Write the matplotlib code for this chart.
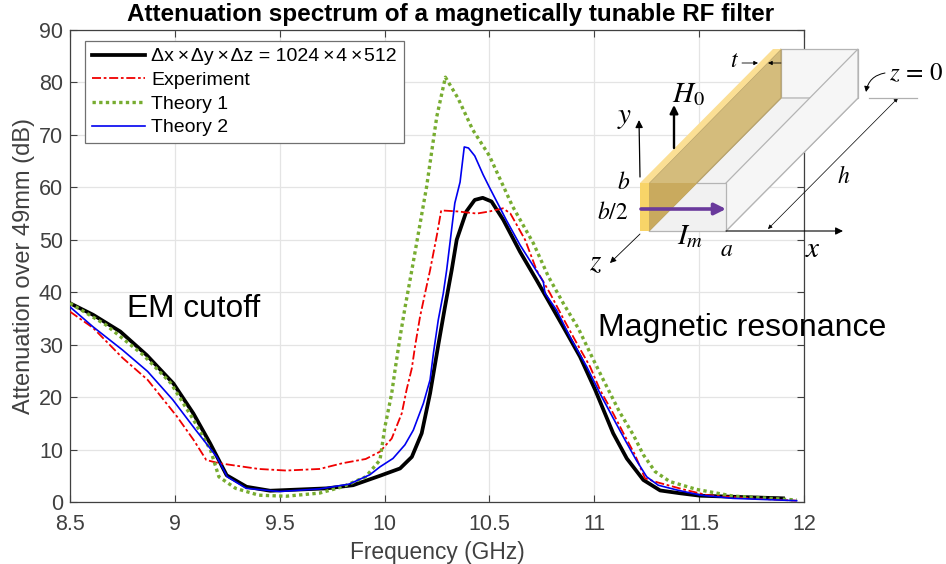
#!/usr/bin/env python3
"""Attenuation spectrum of a magnetically tunable RF filter, with waveguide sketch."""
import matplotlib as mpl
mpl.use("Agg")
import matplotlib.pyplot as plt
from matplotlib.patches import Polygon, FancyArrowPatch

mpl.rcParams.update({
    "font.family": ["Liberation Sans", "DejaVu Sans"],
    "mathtext.fontset": "stix",
    "axes.linewidth": 0.9, "axes.edgecolor": "#404040",
    "xtick.direction": "in", "ytick.direction": "in",
    "xtick.top": True, "ytick.right": True,
    "xtick.major.size": 5, "ytick.major.size": 5,
    "xtick.color": "#404040", "ytick.color": "#404040",
})

# values
sim_f = [8.5, 8.61, 8.74, 8.866, 8.993, 9.088, 9.168, 9.247, 9.342, 9.454, 9.724, 9.85, 9.978,
         10.074, 10.13, 10.177, 10.217, 10.256, 10.288, 10.32, 10.344, 10.39, 10.43, 10.468, 10.51,
         10.566, 10.646, 10.725, 10.765, 10.852, 10.932, 11.004, 11.09, 11.155, 11.234, 11.314,
         11.41, 11.504, 11.66, 11.9]
sim_a = [37.9, 35.7, 32.5, 28, 22.6, 16.9, 11.2, 5.1, 2.9, 2.15, 2.6, 3.2, 5,
         6.4, 8.6, 13.1, 20.7, 29.9, 37.2, 44.2, 50, 55.4, 57.6, 58, 57.3,
         53.8, 47.7, 42.3, 39.5, 33.4, 27.7, 21.4, 13.1, 8.3, 4.2, 2.2,
         1.66, 1.2, 1, 0.7]
exp_f = [8.5, 8.61, 8.75, 8.87, 9.01, 9.09, 9.15, 9.21, 9.4, 9.53, 9.69, 9.8, 9.91, 9.978, 10.034,
         10.082, 10.105, 10.13, 10.145, 10.169, 10.193, 10.217, 10.25, 10.27, 10.35, 10.44, 10.5, 10.565,
         10.6, 10.67, 10.725, 10.789, 10.852, 10.916, 10.98, 11.027, 11.09, 11.147, 11.194, 11.242,
         11.305, 11.425, 11.536, 11.74, 11.965]
exp_a = [36.3, 33.2, 27.5, 23.3, 16.3, 11.8, 8, 7.4, 6.3, 6, 6.3, 7.4, 8.2, 9.6, 12.1,
         16.9, 21.4, 25.5, 29.6, 35.3, 39.8, 44.2, 51, 55.6, 55.4, 55, 55.4, 56,
         55, 50, 44.2, 39.8, 35, 30.3, 25.8, 21.4, 16.9, 12.5, 9, 4.5,
         3.7, 2.4, 1.33, 0.7, 0.25]
th1_f = [8.5, 8.67, 8.85, 8.98, 9.09, 9.17, 9.21, 9.29, 9.4, 9.53, 9.69, 9.8, 9.91, 9.978, 10.002,
         10.034, 10.05, 10.074, 10.098, 10.13, 10.2, 10.249, 10.29, 10.35, 10.42, 10.5, 10.61, 10.71,
         10.781, 10.852, 10.924, 10.996, 11.043, 11.12, 11.186, 11.234, 11.29, 11.36, 11.488, 11.66, 11.965]
th1_a = [37.9, 33.8, 28, 22.7, 15.6, 9.9, 4.8, 2.6, 1.3, 1.1, 1.7, 2.9, 4.8, 8, 14.4,
         20.7, 25.2, 31.5, 37.2, 44.2, 60, 73.5, 81, 77, 71, 66, 56.4, 49.3,
         43, 37.9, 33.1, 27.1, 23.3, 17.2, 12.8, 9, 5.8, 3.9, 2.4, 1.14, 0.38]
th2_f = [8.5, 8.61, 8.75, 8.87, 8.99, 9.1, 9.2, 9.25, 9.34, 9.5, 9.69, 9.83, 9.93, 9.978, 10.04,
         10.097, 10.137, 10.185, 10.217, 10.233, 10.256, 10.28, 10.296, 10.335, 10.36, 10.38, 10.4,
         10.43, 10.47, 10.5, 10.58, 10.646, 10.757, 10.765, 10.82, 10.884, 10.964, 11.027, 11.09,
         11.147, 11.2, 11.25, 11.305, 11.393, 11.504, 11.66, 11.965]
th2_a = [37.2, 33.4, 29, 24.9, 19.5, 13.7, 8.6, 4.8, 2.6, 2, 2.5, 3.4, 5.2, 6.7, 8.3,
         10.9, 13.7, 18.8, 23.3, 28.4, 34.7, 39.8, 44.2, 57, 61, 67.7, 67.5,
         66, 62.4, 60, 53.8, 49, 42, 39.8, 36.6, 31.5, 25.8, 20.7, 16,
         11.8, 8, 4.8, 3.2, 2.3, 1.33, 0.7, 0.25]
x_ticks = [8.5, 9, 9.5, 10, 10.5, 11, 11.5, 12]
x_labels = ["8.5", "9", "9.5", "10", "10.5", "11", "11.5", "12"]
y_ticks = list(range(0, 100, 10))

W, H = 946, 564
fig = plt.figure(figsize=(W / 100, H / 100), dpi=100)
ax = fig.add_axes([70 / W, 1 - 502 / H, 734 / W, 472 / H])
TIMES = "\u2009×\u200a"
ax.plot(sim_f, sim_a, color="k", lw=2.7, label=f"Δx{TIMES}Δy{TIMES}Δz = 1024{TIMES}4{TIMES}512", zorder=3)
ax.plot(exp_f, exp_a, color="#F00000", lw=1.3, ls=(0, (5, 1.5, 1.5, 1.5)), label="Experiment", zorder=4)
ax.plot(th1_f, th1_a, color="#77AC30", lw=2.4, ls=(0, (1, 1)), label="Theory 1", zorder=5)
ax.plot(th2_f, th2_a, color="#0000F0", lw=1.2, label="Theory 2", zorder=6)
ax.set_xlim(8.5, 12); ax.set_ylim(0, 90)
ax.set_xticks(x_ticks); ax.set_xticklabels(x_labels); ax.set_yticks(y_ticks)
ax.tick_params(axis="y", labelsize=15.5, pad=5)
ax.tick_params(axis="x", labelsize=15.5, pad=9)
ax.grid(True, color="#E4E4E4", lw=0.9); ax.set_axisbelow(True)
ax.set_xlabel("Frequency (GHz)", fontsize=16.4, color="#404040", labelpad=4)
ax.set_ylabel("Attenuation over 49mm (dB)", fontsize=17, color="#404040", labelpad=3)
fig.text(451 / W, 1 - 15 / H, "Attenuation spectrum of a magnetically tunable RF filter",
         fontsize=17.5, fontweight="bold", ha="center", va="center")
leg = ax.legend(loc="upper left", bbox_to_anchor=(15 / 734, 1 - 11 / 472), borderaxespad=0, fontsize=14,
                fancybox=False, framealpha=1, edgecolor="#707070", labelspacing=0.31, handlelength=2.75,
                handletextpad=0.3, borderpad=0.35)
leg.get_frame().set_linewidth(0.9)
leg.set_zorder(8)
ax.text(8.77, 36.8, "EM cutoff", fontsize=22.8, ha="left", va="center", zorder=7)
ax.text(11.018, 33.1, "Magnetic resonance", fontsize=23, ha="left", va="center", zorder=7)

# waveguide sketch, drawn on a pixel overlay
sk = fig.add_axes([0, 0, 1, 1], facecolor="none", zorder=10)
sk.set_xlim(0, W); sk.set_ylim(H, 0); sk.axis("off")
EDGE = "#B4B4B4"
def poly(pts, fc, ec=EDGE, lw=0.9, z=1):
    sk.add_patch(Polygon(pts, closed=True, fc=fc, ec=ec, lw=lw, zorder=z))
def arrow(a, b, color="k", lw=0.8, ms=9, z=6, style="-|>", rad=0):
    sk.add_patch(FancyArrowPatch(a, b, arrowstyle=style, mutation_scale=ms, color=color, lw=lw, zorder=z,
                                 shrinkA=0, shrinkB=0, connectionstyle=f"arc3,rad={rad}"))
def mtext(x, y, s, size=17):
    sk.text(x, y, s, fontsize=size, ha="center", va="center", zorder=7)

poly([(781, 49), (858, 49), (858, 98), (781, 98)], "#F6F6F6")
poly([(649, 231), (781, 98), (858, 98), (726, 231)], "#F3F3F3")
poly([(726, 183), (858, 49), (858, 98), (726, 231)], "#F6F6F6")
poly([(649, 183), (726, 183), (726, 231), (649, 231)], "#F1F1F1")
poly([(649, 183), (781, 49), (781, 98), (649, 231)], "#D4BC7C", ec="#B9A36A", z=2)
poly([(649, 183), (697, 183), (649, 231)], "#C9AA5E", ec="none", z=2)
poly([(640, 183), (773, 49), (781, 49), (649, 183)], "#FBDF94", ec="none", z=3)
poly([(640, 183), (649, 183), (649, 231), (640, 231)], "#F8D468", ec="none", z=3)

arrow((641, 209), (726, 209), color="#6A3A9C", lw=2.6, ms=17)
arrow((674, 148), (674, 105), lw=1.7, ms=12)
arrow((640, 177), (639, 120), lw=0.9, ms=11)
arrow((640, 234), (610, 263), lw=0.6, ms=9)
arrow((726, 231), (843, 231), lw=0.8, ms=11)
arrow((768, 229), (898, 98), lw=0.5, ms=6, style="<|-|>")
arrow((742, 63), (758, 63), lw=0.6, ms=6)
arrow((781, 63), (768, 63), lw=0.6, ms=6)
arrow((885, 73), (866, 92), lw=0.7, ms=8, rad=0.35)
sk.plot([869, 917], [98, 98], color="#B0B0B0", lw=0.9, zorder=6)

mtext(734, 61, "$t$", 17)
mtext(689, 94, "$H_0$", 21)
mtext(625, 117, "$y$", 21)
mtext(624, 183, "$b$", 17)
mtext(613, 213, "$b/2$", 17)
mtext(690, 236, "$I_m$", 21)
mtext(727, 250, "$a$", 17)
mtext(813, 249, "$x$", 21)
mtext(596, 262, "$z$", 21)
mtext(844, 177, "$h$", 17)
mtext(916, 73, "$z\\,=\\,0$", 18)

fig.savefig("out.png", dpi=100)
